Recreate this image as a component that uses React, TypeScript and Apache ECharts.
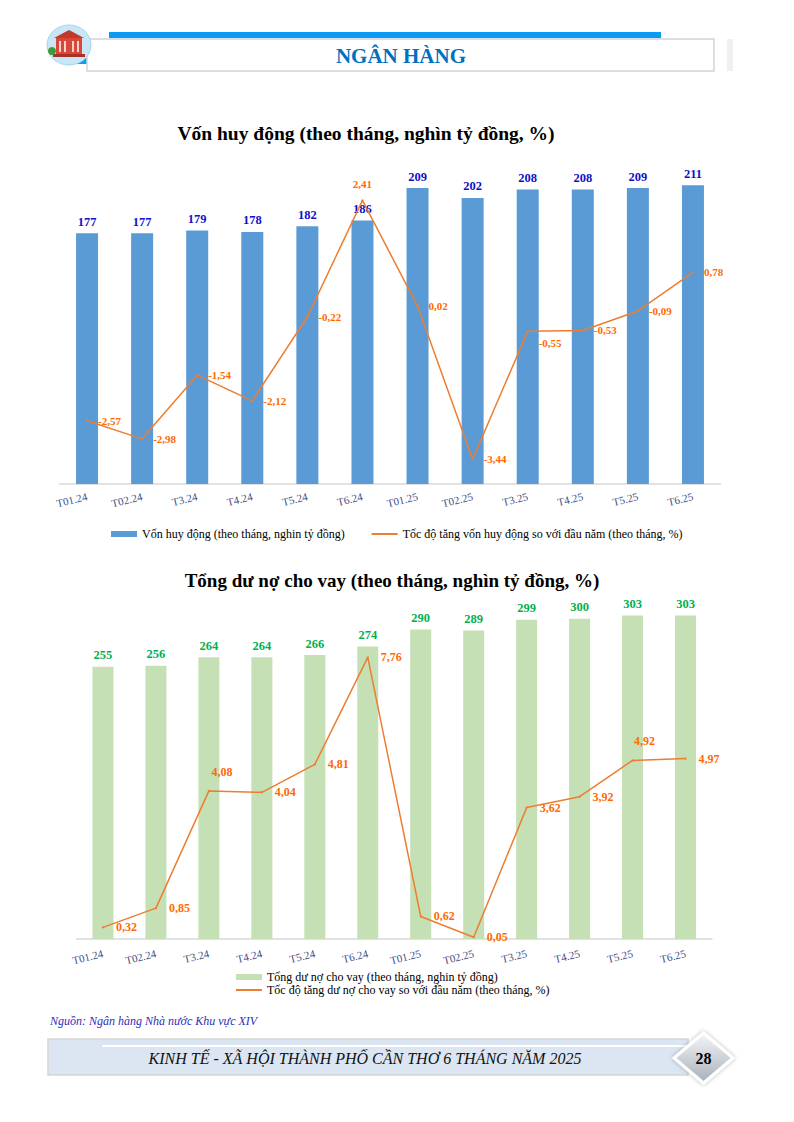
import { useEffect, useRef } from "react";
import * as echarts from "echarts";

const months = ["T01.24", "T02.24", "T3.24", "T4.24", "T5.24", "T6.24", "T01.25", "T02.25", "T3.25", "T4.25", "T5.25", "T6.25"];

// Vốn huy động
const depositName = "Vốn huy động (theo tháng, nghin tỷ đồng)";
const depositGrowthName = "Tốc độ tăng vốn huy động so với đầu năm (theo tháng, %)";
const depositValues = [177, 177, 179, 178, 182, 186, 209, 202, 208, 208, 209, 211];
const depositGrowth = [-2.57, -2.98, -1.54, -2.12, -0.22, 2.41, 0.02, -3.44, -0.55, -0.53, -0.09, 0.78];

// Tổng dư nợ
const loanName = "Tổng dư nợ cho vay (theo tháng, nghin tỷ đồng)";
const loanGrowthName = "Tốc độ tăng dư nợ cho vay so với đầu năm (theo tháng, %)";
const loanValues = [255, 256, 264, 264, 266, 274, 290, 289, 299, 300, 303, 303];
const loanGrowth = [0.32, 0.85, 4.08, 4.04, 4.81, 7.76, 0.62, 0.05, 3.62, 3.92, 4.92, 4.97];

// label placement for the growth lines
const depositLabelPos = ["right", "right", "right", "right", "right", "top", "right", "right", "right", "right", "right", "right"];
const depositLabelOffset: Record<number, number[]> = { 8: [0, 12] };
const loanLabelPos = ["right", "right", "top", "right", "right", "right", "right", "right", "right", "right", "top", "right"];
const loanLabelOffset: Record<number, number[]> = { 2: [13, 0], 10: [12, 0] };

const SERIF = '"Liberation Serif", "DejaVu Serif", serif';
const ORANGE_LINE = "#ED7D31";
const ORANGE_TEXT = "#FF6A00";

const fmt = (v: number) => v.toFixed(2).replace(".", ",");

const App = () => {
  const chartRef = useRef<HTMLDivElement>(null);

  useEffect(() => {
    document.body.style.margin = "0";
    if (!chartRef.current) return;
    const myChart = echarts.init(chartRef.current, null, { renderer: "svg" });

    const xAxisBase = (grid: number, margin: number) => ({
      type: "category" as const,
      gridIndex: grid,
      data: months,
      axisLine: { lineStyle: { color: "#D9D9D9", width: 1.5 } },
      axisTick: { show: false },
      axisLabel: { rotate: 14, fontSize: 11, color: "#3F4E86", fontFamily: SERIF, margin },
    });

    const legendBase = {
      padding: 0,
      itemWidth: 26,
      itemHeight: 6,
      textStyle: { fontFamily: SERIF, fontSize: 12, color: "#000" },
    };

    const option: any = {
      animation: false,
      grid: [
        { left: 59.5, width: 661, top: 130, height: 354 },
        { left: 76.5, width: 635.5, top: 576, height: 363 },
      ],
      xAxis: [xAxisBase(0, 12), xAxisBase(1, 14)],
      yAxis: [
        { type: "value", gridIndex: 0, min: 0, max: 250, show: false },
        { type: "value", gridIndex: 0, min: -4, max: 4, show: false },
        { type: "value", gridIndex: 1, min: 0, max: 340, show: false },
        { type: "value", gridIndex: 1, min: 0, max: 10, show: false },
      ],
      legend: [
        {
          ...legendBase,
          left: 111,
          top: 528,
          itemGap: 26,
          data: [
            { name: depositName, icon: "rect" },
            { name: depositGrowthName, itemStyle: { opacity: 0 } },
          ],
        },
        {
          ...legendBase,
          left: 235,
          top: 971,
          orient: "vertical",
          itemGap: 1,
          data: [
            { name: loanName, icon: "rect" },
            { name: loanGrowthName, itemStyle: { opacity: 0 } },
          ],
        },
      ],
      series: [
        {
          name: depositName,
          type: "bar",
          xAxisIndex: 0,
          yAxisIndex: 0,
          barWidth: 22,
          data: depositValues,
          itemStyle: { color: "#5B9BD5" },
          label: {
            show: true,
            position: "top",
            color: "#1010C8",
            fontWeight: "bold",
            fontSize: 12.5,
            fontFamily: SERIF,
          },
        },
        {
          name: depositGrowthName,
          type: "line",
          xAxisIndex: 0,
          yAxisIndex: 1,
          symbol: "circle",
          symbolSize: 2,
          itemStyle: { color: ORANGE_LINE },
          lineStyle: { color: ORANGE_LINE, width: 1.5 },
          data: depositGrowth.map((v, i) => ({
            value: v,
            label: { position: depositLabelPos[i], offset: depositLabelOffset[i] || [0, 0] },
          })),
          label: {
            show: true,
            distance: 10,
            color: ORANGE_TEXT,
            fontWeight: "bold",
            fontSize: 11,
            fontFamily: SERIF,
            formatter: (p: any) => fmt(p.value),
          },
        },
        {
          name: loanName,
          type: "bar",
          xAxisIndex: 1,
          yAxisIndex: 2,
          barWidth: 21,
          data: loanValues,
          itemStyle: { color: "#C5E0B4" },
          label: {
            show: true,
            position: "top",
            color: "#00B050",
            fontWeight: "bold",
            fontSize: 12.5,
            fontFamily: SERIF,
          },
        },
        {
          name: loanGrowthName,
          type: "line",
          xAxisIndex: 1,
          yAxisIndex: 3,
          symbol: "circle",
          symbolSize: 2,
          itemStyle: { color: ORANGE_LINE },
          lineStyle: { color: ORANGE_LINE, width: 1.5 },
          data: loanGrowth.map((v, i) => ({
            value: v,
            label: { position: loanLabelPos[i], offset: loanLabelOffset[i] || [0, 0] },
          })),
          label: {
            show: true,
            distance: 12,
            color: ORANGE_TEXT,
            fontWeight: "bold",
            fontSize: 12,
            fontFamily: SERIF,
            formatter: (p: any) => fmt(p.value),
          },
        },
      ],
      graphic: [
        // header
        { type: "rect", shape: { x: 109, y: 32, width: 552, height: 6 }, style: { fill: "#0A9BF5" } },
        { type: "rect", shape: { x: 69, y: 58, width: 18, height: 6 }, style: { fill: "#0A9BF5" } },
        {
          type: "rect",
          shape: { x: 87, y: 39, width: 627, height: 32 },
          style: { fill: "#fff", stroke: "#D3D3D3", lineWidth: 1.5 },
        },
        { type: "rect", shape: { x: 727, y: 39, width: 6, height: 32 }, style: { fill: "#F0F0F0" } },
        {
          type: "text",
          x: 401,
          y: 56,
          style: {
            text: "NGÂN HÀNG",
            font: `bold 21px ${SERIF}`,
            fill: "#0070C0",
            align: "center",
            verticalAlign: "middle",
          },
        },
        // logo
        {
          type: "ellipse",
          shape: { cx: 69, cy: 45, rx: 22, ry: 20 },
          style: { fill: "#C9E6F7", stroke: "#A8D4EF", lineWidth: 1 },
        },
        { type: "polygon", shape: { points: [[54, 38], [69, 30], [84, 38]] }, style: { fill: "#C0392B" } },
        { type: "rect", shape: { x: 56, y: 38, width: 26, height: 16 }, style: { fill: "#D9473B" } },
        { type: "rect", shape: { x: 59, y: 41, width: 2, height: 11 }, style: { fill: "#F6D3CB" } },
        { type: "rect", shape: { x: 64, y: 41, width: 2, height: 11 }, style: { fill: "#F6D3CB" } },
        { type: "rect", shape: { x: 72, y: 41, width: 2, height: 11 }, style: { fill: "#F6D3CB" } },
        { type: "rect", shape: { x: 77, y: 41, width: 2, height: 11 }, style: { fill: "#F6D3CB" } },
        { type: "rect", shape: { x: 53, y: 54, width: 32, height: 3 }, style: { fill: "#A93226" } },
        { type: "circle", shape: { cx: 52, cy: 51, r: 4 }, style: { fill: "#3E9B3A" } },
        // chart titles
        {
          type: "text",
          x: 366,
          y: 133,
          style: {
            text: "Vốn huy động (theo tháng, nghìn tỷ đồng, %)",
            font: `bold 19.5px ${SERIF}`,
            fill: "#000",
            align: "center",
            verticalAlign: "middle",
          },
        },
        {
          type: "text",
          x: 392,
          y: 580,
          style: {
            text: "Tổng dư nợ cho vay (theo tháng, nghìn tỷ đồng, %)",
            font: `bold 19px ${SERIF}`,
            fill: "#000",
            align: "center",
            verticalAlign: "middle",
          },
        },
        // source
        {
          type: "text",
          x: 50,
          y: 1021,
          style: {
            text: "Nguồn: Ngân hàng Nhà nước Khu vực XIV",
            font: `italic 12px ${SERIF}`,
            fill: "#2E2EB8",
            align: "left",
            verticalAlign: "middle",
          },
        },
        // footer
        {
          type: "rect",
          shape: { x: 48, y: 1039, width: 640, height: 36 },
          style: { fill: "#DCE6F2", stroke: "#D5D5D5", lineWidth: 1.5 },
        },
        {
          type: "line",
          shape: { x1: 102, y1: 1046, x2: 688, y2: 1046 },
          style: { stroke: "#fff", lineWidth: 2 },
        },
        {
          type: "text",
          x: 365,
          y: 1058,
          style: {
            text: "KINH TẾ - XÃ HỘI THÀNH PHỐ CẦN THƠ 6 THÁNG NĂM 2025",
            font: `italic 16px ${SERIF}`,
            fill: "#111",
            align: "center",
            verticalAlign: "middle",
          },
        },
        {
          type: "polygon",
          shape: { points: [[703.5, 1033], [733, 1058], [703.5, 1083], [674, 1058]] },
          style: {
            fill: new echarts.graphic.LinearGradient(0, 0, 0, 1, [
              { offset: 0, color: "#F4F6F8" },
              { offset: 1, color: "#A7AFB8" },
            ]),
            stroke: "#fff",
            lineWidth: 3,
            shadowBlur: 4,
            shadowColor: "rgba(0,0,0,0.3)",
          },
        },
        {
          type: "text",
          x: 703.5,
          y: 1058,
          style: {
            text: "28",
            font: `bold 16px ${SERIF}`,
            fill: "#000",
            align: "center",
            verticalAlign: "middle",
          },
        },
      ],
    };

    myChart.setOption(option);

    return () => {
      myChart.dispose();
    };
  }, []);

  return <div ref={chartRef} style={{ width: 794, height: 1122 }}></div>;
};

export default App;
